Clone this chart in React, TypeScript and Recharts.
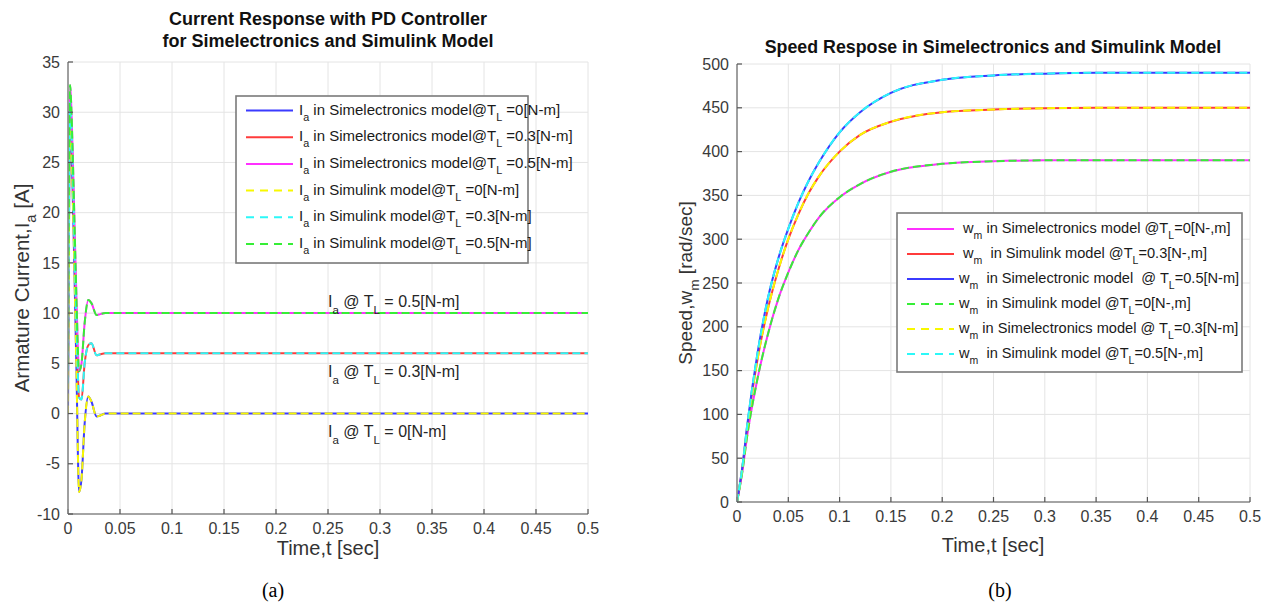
import React from 'react';
import { LineChart, Line, XAxis, YAxis, CartesianGrid, ReferenceDot } from 'recharts';

// ---------- data: (a) armature current ----------
const timeA = [0, 0.001, 0.002, 0.003, 0.0045, 0.006, 0.008, 0.0107, 0.013, 0.016, 0.0195, 0.0225, 0.0275, 0.031, 0.036, 0.042, 0.05, 0.1, 0.2, 0.3, 0.4, 0.5];
const currentT0 = [0, 19, 29, 27.5, 22, 15, 5, -7.8, -6.5, -1, 1.7, 1.2, -0.3, -0.2, 0, 0, 0, 0, 0, 0, 0, 0];
const currentT03 = [3, 22, 31, 29.5, 24.5, 18, 9.5, 1.6, 1.4, 5, 6.8, 7.0, 5.8, 5.9, 6, 6, 6, 6, 6, 6, 6, 6];
const currentT05 = [5, 24, 32.7, 31, 26, 20, 12, 4.2, 5, 9, 11.3, 11, 9.8, 9.9, 10, 10, 10, 10, 10, 10, 10, 10];

// ---------- data: (b) speed ----------
const timeB = [0, 0.005, 0.01, 0.02, 0.03, 0.04, 0.05, 0.06, 0.07, 0.08, 0.1, 0.12, 0.15, 0.2, 0.25, 0.3, 0.35, 0.4, 0.45, 0.5];
const speedHigh = [0, 38, 88, 170, 232, 277, 312, 342, 367, 388, 422, 445, 467, 482, 487, 489, 490, 490, 490, 490];
const speedMid = [0, 37, 85, 163, 220, 264, 300, 329, 353, 372, 400, 419, 434, 445, 448, 449.5, 450, 450, 450, 450];
const speedLow = [0, 33, 76, 141, 191, 231, 262, 288, 308, 325, 348, 363, 377, 386, 389, 390, 390, 390, 390, 390];

// ---------- ticks ----------
const xTicks = [0, 0.05, 0.1, 0.15, 0.2, 0.25, 0.3, 0.35, 0.4, 0.45, 0.5];
const yTicksA = [-10, -5, 0, 5, 10, 15, 20, 25, 30, 35];
const yTicksB = [0, 50, 100, 150, 200, 250, 300, 350, 400, 450, 500];

// ---------- labels ----------
const legendA = [
  'I_{a} in Simelectronics model@T_{L} =0[N-m]',
  'I_{a} in Simelectronics model@T_{L} =0.3[N-m]',
  'I_{a} in Simelectronics model@T_{L} =0.5[N-m]',
  'I_{a} in Simulink model@T_{L} =0[N-m]',
  'I_{a} in Simulink model@T_{L} =0.3[N-m]',
  'I_{a} in Simulink model@T_{L} =0.5[N-m]',
];
const legendB = [
  ' w_{m} in Simelectronics model @T_{L}=0[N-,m]',
  ' w_{m}  in Simulink model @T_{L}=0.3[N-,m]',
  'w_{m}  in Simelectronic model  @ T_{L}=0.5[N-m]',
  'w_{m}  in Simulink model @T_{L}=0[N-,m]',
  'w_{m} in Simelectronics model @ T_{L}=0.3[N-m]',
  'w_{m}  in Simulink model @T_{L}=0.5[N-,m]',
];
const annotations = [
  { t: 0.25, v: 10.6, text: 'I_{a} @ T_{L} = 0.5[N-m]' },
  { t: 0.25, v: 3.6, text: 'I_{a} @ T_{L} = 0.3[N-m]' },
  { t: 0.25, v: -2.3, text: 'I_{a} @ T_{L} = 0[N-m]' },
];

const C = {
  blue: '#3b3bff',
  red: '#ff3b3b',
  magenta: '#ff30ff',
  yellow: '#f8f800',
  cyan: '#2cf8f8',
  green: '#36ee36',
};

const dataA = timeA.map((t, i) => ({ t, a0: currentT0[i], a3: currentT03[i], a5: currentT05[i] }));
const dataB = timeB.map((t, i) => ({ t, hi: speedHigh[i], mid: speedMid[i], lo: speedLow[i] }));

const FONT = '"Liberation Sans", Arial, Helvetica, sans-serif';
const DASH = '8 4';

function SubText({ x, y, text, size = 15, anchor = 'start', weight = 'normal', fill = '#1a1a1a', subShift = 6 }: any) {
  const parts = text.split(/(_\{[^}]*\})/).filter((p: string) => p.length > 0);
  let shifted = false;
  const spans = parts.map((p: string, i: number) => {
    if (p.startsWith('_{')) {
      const s = p.slice(2, -1);
      const dy = shifted ? 0 : subShift;
      shifted = true;
      return (
        <tspan key={i} dy={dy} fontSize={size * 0.72}>
          {s}
        </tspan>
      );
    }
    const dy = shifted ? -subShift : 0;
    shifted = false;
    return (
      <tspan key={i} dy={dy}>
        {p}
      </tspan>
    );
  });
  return (
    <text x={x} y={y} fontSize={size} fontFamily={FONT} textAnchor={anchor} fontWeight={weight} fill={fill} style={{ whiteSpace: 'pre' }} xmlSpace="preserve">
      {spans}
    </text>
  );
}

const tickStyle = { fill: '#3a3a3a', fontSize: 16, fontFamily: FONT };
const axisLineStyle = { stroke: '#8a8a8a', strokeWidth: 1.6 };
const tickLineStyle = { stroke: '#555', strokeWidth: 1.2 };
const noTick = () => <g />;

function LegendBox({ x, y, w, h, rows, colors, dashed, lineX1, lineX2, textX, rowY0, rowDy, fontSize }: any) {
  return (
    <g>
      <rect x={x} y={y} width={w} height={h} fill="#fff" stroke="#7a7a7a" strokeWidth={1.6} />
      {rows.map((r: string, i: number) => {
        const cy = rowY0 + i * rowDy;
        return (
          <g key={i}>
            <line x1={lineX1} x2={lineX2} y1={cy} y2={cy} stroke={colors[i]} strokeWidth={2} strokeDasharray={dashed[i] ? '8 6' : undefined} />
            <SubText x={textX} y={cy + 4} text={r} size={fontSize} />
          </g>
        );
      })}
    </g>
  );
}

function ChartA() {
  return (
    <LineChart width={620} height={608} data={dataA} margin={{ top: 62, right: 32, bottom: 64, left: 8 }}>
      <CartesianGrid stroke="#e4e4e4" strokeWidth={1} />
      <XAxis dataKey="t" type="number" domain={[0, 0.5]} ticks={xTicks} interval={0} height={30} tickSize={-5} tickMargin={14} tick={tickStyle} axisLine={axisLineStyle} tickLine={tickLineStyle} allowDataOverflow />
      <XAxis xAxisId="top" orientation="top" dataKey="t" type="number" domain={[0, 0.5]} ticks={xTicks} interval={0} height={0} tickSize={-5} tick={noTick} axisLine={axisLineStyle} tickLine={tickLineStyle} />
      <YAxis type="number" domain={[-10, 35]} ticks={yTicksA} interval={0} width={60} tickSize={-5} tickMargin={13} tick={tickStyle} axisLine={axisLineStyle} tickLine={tickLineStyle} allowDataOverflow />
      <YAxis yAxisId="right" orientation="right" type="number" domain={[-10, 35]} ticks={yTicksA} interval={0} width={0} tickSize={-5} tick={noTick} axisLine={axisLineStyle} tickLine={tickLineStyle} />
      <Line dataKey="a0" type="monotone" stroke={C.blue} strokeWidth={2} dot={false} isAnimationActive={false} />
      <Line dataKey="a3" type="monotone" stroke={C.red} strokeWidth={2} dot={false} isAnimationActive={false} />
      <Line dataKey="a5" type="monotone" stroke={C.magenta} strokeWidth={2} dot={false} isAnimationActive={false} />
      <Line dataKey="a0" type="monotone" stroke={C.yellow} strokeWidth={2} strokeDasharray={DASH} dot={false} isAnimationActive={false} />
      <Line dataKey="a3" type="monotone" stroke={C.cyan} strokeWidth={2} strokeDasharray={DASH} dot={false} isAnimationActive={false} />
      <Line dataKey="a5" type="monotone" stroke={C.green} strokeWidth={2} strokeDasharray={DASH} dot={false} isAnimationActive={false} />
      {annotations.map((a, i) => (
        <ReferenceDot
          key={i}
          x={a.t}
          y={a.v}
          r={0}
          fill="none"
          stroke="none"
          label={(p: any) => <SubText x={p.viewBox.x} y={p.viewBox.y} text={a.text} size={16} subShift={7} fill="#262626" />}
        />
      ))}
    </LineChart>
  );
}

function ChartB() {
  return (
    <LineChart width={650} height={608} data={dataB} margin={{ top: 64, right: 20, bottom: 76, left: 57 }}>
      <CartesianGrid stroke="#e4e4e4" strokeWidth={1} />
      <XAxis dataKey="t" type="number" domain={[0, 0.5]} ticks={xTicks} interval={0} height={30} tickSize={-5} tickMargin={14} tick={tickStyle} axisLine={axisLineStyle} tickLine={tickLineStyle} />
      <XAxis xAxisId="top" orientation="top" dataKey="t" type="number" domain={[0, 0.5]} ticks={xTicks} interval={0} height={0} tickSize={-5} tick={noTick} axisLine={axisLineStyle} tickLine={tickLineStyle} />
      <YAxis type="number" domain={[0, 500]} ticks={yTicksB} interval={0} width={60} tickSize={-5} tickMargin={13} tick={tickStyle} axisLine={axisLineStyle} tickLine={tickLineStyle} />
      <YAxis yAxisId="right" orientation="right" type="number" domain={[0, 500]} ticks={yTicksB} interval={0} width={0} tickSize={-5} tick={noTick} axisLine={axisLineStyle} tickLine={tickLineStyle} />
      <Line dataKey="lo" type="monotone" stroke={C.magenta} strokeWidth={2} dot={false} isAnimationActive={false} />
      <Line dataKey="mid" type="monotone" stroke={C.red} strokeWidth={2} dot={false} isAnimationActive={false} />
      <Line dataKey="hi" type="monotone" stroke={C.blue} strokeWidth={2} dot={false} isAnimationActive={false} />
      <Line dataKey="lo" type="monotone" stroke={C.green} strokeWidth={2} strokeDasharray={DASH} dot={false} isAnimationActive={false} />
      <Line dataKey="mid" type="monotone" stroke={C.yellow} strokeWidth={2} strokeDasharray={DASH} dot={false} isAnimationActive={false} />
      <Line dataKey="hi" type="monotone" stroke={C.cyan} strokeWidth={2} strokeDasharray={DASH} dot={false} isAnimationActive={false} />
    </LineChart>
  );
}

export default function App() {
  return (
    <div style={{ position: 'absolute', left: 0, top: 0, width: 1270, height: 608, background: '#fff', overflow: 'hidden' }}>
      <div style={{ position: 'absolute', left: 0, top: 0 }}>
        <ChartA />
      </div>
      <div style={{ position: 'absolute', left: 620, top: 0 }}>
        <ChartB />
      </div>
      <svg width={1270} height={608} style={{ position: 'absolute', left: 0, top: 0, pointerEvents: 'none' }}>
        {/* titles */}
        <text x={328} y={25} textAnchor="middle" fontFamily={FONT} fontWeight="bold" fontSize={18} fill="#111">Current Response with PD Controller</text>
        <text x={328} y={47} textAnchor="middle" fontFamily={FONT} fontWeight="bold" fontSize={18} fill="#111">for Simelectronics and Simulink Model</text>
        <text x={993} y={53} textAnchor="middle" fontFamily={FONT} fontWeight="bold" fontSize={17.8} fill="#111">Speed Respose in Simelectronics and Simulink Model</text>
        {/* axis labels */}
        <text x={328} y={555} textAnchor="middle" fontFamily={FONT} fontSize={20} fill="#333">Time,t [sec]</text>
        <text x={993} y={552} textAnchor="middle" fontFamily={FONT} fontSize={20} fill="#333">Time,t [sec]</text>
        <g transform="translate(29,288) rotate(-90)">
          <SubText x={0} y={0} text="Armature Current,I_{a} [A]" size={20.5} anchor="middle" fill="#333" subShift={7} />
        </g>
        <g transform="translate(692,283) rotate(-90)">
          <SubText x={0} y={0} text="Speed,w_{m} [rad/sec]" size={19} anchor="middle" fill="#333" subShift={7} />
        </g>
        {/* legends */}
        <LegendBox x={236} y={96} w={292} h={167} rows={legendA}
          colors={[C.blue, C.red, C.magenta, C.yellow, C.cyan, C.green]}
          dashed={[false, false, false, true, true, true]}
          lineX1={246} lineX2={293} textX={299} rowY0={110.5} rowDy={26.7} fontSize={15} />
        <LegendBox x={897} y={213} w={345} h={159} rows={legendB}
          colors={[C.magenta, C.red, C.blue, C.green, C.yellow, C.cyan]}
          dashed={[false, false, false, true, true, true]}
          lineX1={907} lineX2={954} textX={959} rowY0={229} rowDy={25} fontSize={14.6} />
        {/* captions */}
        <text x={273} y={597} textAnchor="middle" fontFamily='"Liberation Serif", "Times New Roman", serif' fontSize={20} fill="#000">(a)</text>
        <text x={1000} y={597} textAnchor="middle" fontFamily='"Liberation Serif", "Times New Roman", serif' fontSize={20} fill="#000">(b)</text>
      </svg>
    </div>
  );
}
